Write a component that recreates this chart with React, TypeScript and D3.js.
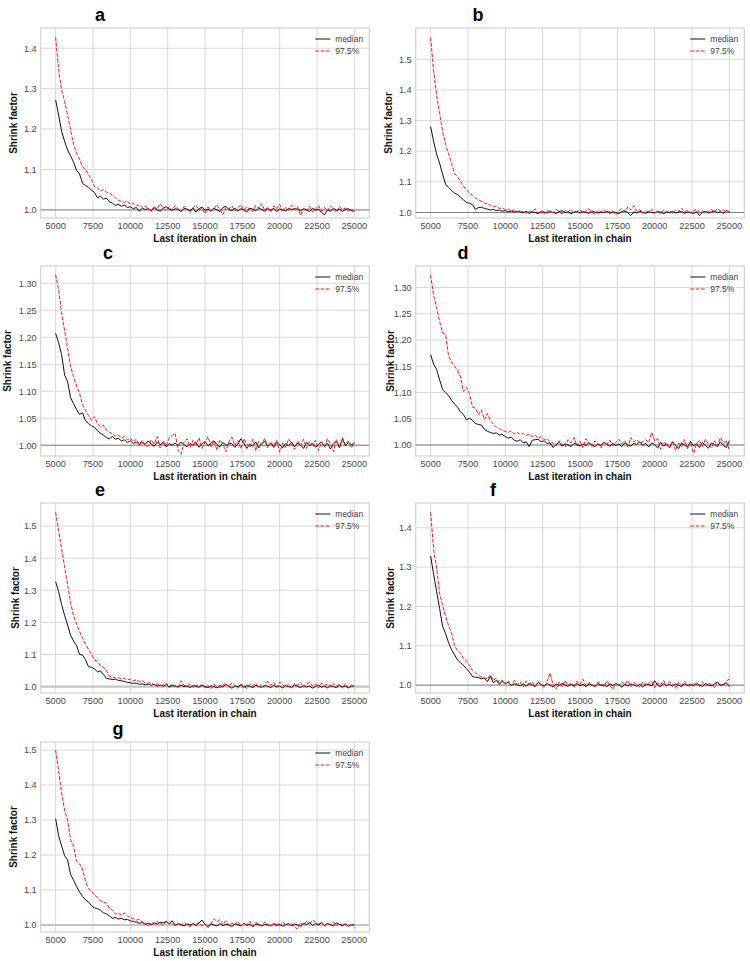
import * as d3 from 'd3';

// Gelman–Rubin shrink factor, one panel per chain set
const iterations = d3.range(5000, 25001, 200);
const xTicks = [5000, 7500, 10000, 12500, 15000, 17500, 20000, 22500, 25000];

const medianA = [
  1.272, 1.235, 1.194, 1.170, 1.148, 1.134, 1.118, 1.098, 1.089, 1.066,
  1.060, 1.056, 1.049, 1.043, 1.030, 1.034, 1.027, 1.029, 1.020, 1.017,
  1.011, 1.014, 1.009, 1.012, 1.006, 1.008, 1.003, 1.006, 0.997, 1.004,
  1.001,
  1.003, 0.998, 1.005, 1.000, 0.997, 1.004, 1.008, 1.002, 0.999, 1.003,
  1.001, 0.996, 1.004, 1.002, 0.998, 1.005, 0.994, 1.003, 1.007, 0.999,
  1.002, 0.997, 1.004, 1.000, 0.996, 1.006, 1.009, 1.001, 0.998, 1.004,
  0.997, 1.003, 1.000, 0.995, 1.004, 1.002, 0.998, 1.005, 1.001, 0.997,
  1.003, 0.999, 1.004, 0.996, 1.002, 1.000, 0.997, 1.004, 1.001, 1.003,
  1.002, 0.998, 1.003, 1.000, 0.996, 1.004, 0.999, 1.002, 0.994, 0.988,
  1.000, 0.997, 1.004, 0.999, 1.002, 0.996, 1.001, 1.003, 0.998, 0.997,
];
const upperA = [
  1.427, 1.345, 1.298, 1.268, 1.235, 1.198, 1.162, 1.140, 1.126, 1.106,
  1.100, 1.088, 1.075, 1.058, 1.055, 1.046, 1.050, 1.044, 1.042, 1.036,
  1.030, 1.024, 1.021, 1.019, 1.022, 1.014, 1.017, 1.010, 1.013, 1.006,
  1.010,
  1.004, 0.996, 1.010, 1.002, 1.016, 1.005, 0.998, 1.008, 1.000, 1.011,
  1.003, 0.995, 1.009, 1.001, 0.993, 1.006, 1.012, 0.999, 1.004, 0.991,
  1.007, 0.997, 1.003, 1.013, 1.000, 0.988, 1.006, 1.002, 1.010, 0.998,
  1.005, 1.013, 0.999, 1.008, 1.001, 0.995, 1.011, 1.004, 1.016, 0.999,
  1.007, 0.994, 1.010, 1.002, 1.014, 0.997, 1.006, 0.999, 1.012, 1.001,
  1.008, 0.986, 1.004, 0.998, 1.009, 0.995, 1.002, 1.011, 0.996, 1.006,
  0.998, 1.010, 1.003, 0.994, 1.008, 1.001, 1.005, 0.997, 1.002, 0.996,
];

const medianB = [
  1.280, 1.232, 1.190, 1.161, 1.125, 1.092, 1.082, 1.072, 1.063, 1.058,
  1.050, 1.041, 1.033, 1.030, 1.026, 1.010, 1.016, 1.017, 1.013, 1.011,
  1.008, 1.010, 1.006, 1.008, 1.004, 1.006, 1.002, 1.005, 1.001, 1.004,
  1.002,
  0.999, 1.004, 0.997, 1.002, 1.000, 0.996, 1.003, 1.001, 0.998, 1.004,
  1.000, 0.997, 1.003, 1.006, 0.999, 1.002, 0.996, 1.001, 1.004, 0.998,
  1.003, 1.000, 0.997, 1.005, 1.001, 0.998, 1.002, 0.999, 1.004, 0.997,
  1.002, 1.000, 0.996, 1.003, 1.006, 0.999, 0.990, 1.002, 0.998, 1.004,
  1.001, 0.997, 1.003, 1.000, 0.998, 1.004, 1.001, 0.996, 1.002, 0.999,
  1.003, 0.998, 1.001, 1.004, 0.997, 1.002, 1.000, 0.996, 1.003, 0.990,
  1.001, 1.004, 0.998, 1.002, 1.005, 0.999, 1.003, 0.997, 1.006, 1.001,
];
const upperB = [
  1.571, 1.462, 1.382, 1.324, 1.266, 1.222, 1.192, 1.160, 1.128, 1.116,
  1.102, 1.085, 1.074, 1.063, 1.056, 1.047, 1.042, 1.036, 1.031, 1.027,
  1.024, 1.018, 1.021, 1.013, 1.015, 1.009, 1.011, 1.004, 1.008, 1.002,
  1.006,
  1.002, 0.996, 1.007, 1.001, 1.012, 0.998, 1.005, 0.993, 1.008, 1.002,
  0.999, 1.010, 1.004, 0.995, 1.006, 1.001, 1.011, 0.997, 1.004, 1.008,
  0.999, 1.005, 1.012, 1.000, 0.994, 1.007, 1.003, 1.010, 0.998, 1.005,
  1.001, 0.992, 1.006, 1.013, 1.002, 1.018, 1.008, 1.022, 1.004, 1.010,
  0.997, 1.006, 1.002, 1.011, 0.999, 1.004, 0.995, 1.008, 1.001, 1.006,
  0.996, 1.009, 1.003, 1.014, 1.002, 1.007, 0.998, 1.005, 1.011, 1.002,
  1.006, 0.999, 1.004, 1.010, 1.001, 1.013, 1.005, 1.008, 1.002, 1.003,
];

const medianC = [
  1.207, 1.190, 1.168, 1.130, 1.118, 1.088, 1.077, 1.066, 1.057, 1.060,
  1.045, 1.040, 1.036, 1.033, 1.027, 1.022, 1.019, 1.014, 1.012, 1.016,
  1.011, 1.013, 1.008, 1.010, 1.005, 1.008, 1.003, 1.006, 1.001, 1.005,
  1.002,
  1.008, 1.002, 0.998, 1.006, 1.001, 1.005, 0.997, 1.003, 1.000, 1.004,
  0.999, 1.006, 1.001, 0.997, 1.003, 1.000, 1.005, 0.996, 1.002, 1.007,
  0.999, 1.004, 1.008, 1.001, 0.997, 1.005, 1.000, 1.003, 1.003, 0.996,
  1.002, 1.012, 1.004, 0.994, 1.002, 0.998, 1.006, 0.995, 1.003, 1.007,
  0.998, 1.004, 0.996, 1.005, 1.001, 0.995, 1.003, 0.999, 1.006, 0.997,
  1.004, 1.000, 0.994, 1.005, 0.999, 1.003, 0.996, 1.002, 1.006, 0.998,
  1.004, 0.993, 1.002, 1.008, 0.995, 1.012, 0.999, 1.005, 1.001, 1.003,
];
const upperC = [
  1.316, 1.288, 1.245, 1.212, 1.180, 1.146, 1.127, 1.110, 1.096, 1.075,
  1.064, 1.055, 1.046, 1.053, 1.040, 1.034, 1.037, 1.028, 1.024, 1.021,
  1.017, 1.019, 1.013, 1.016, 1.010, 1.013, 1.006, 1.011, 1.002, 1.009,
  0.999,
  0.998, 1.010, 1.002, 1.016, 0.995, 1.008, 0.999, 1.013, 1.018, 1.022,
  0.990, 0.983, 1.006, 1.012, 0.996, 1.009, 1.001, 1.014, 0.994, 1.005,
  1.016, 0.997, 1.008, 0.991, 1.010, 1.002, 0.988, 1.006, 1.015, 0.999,
  1.009, 0.993, 1.012, 1.003, 0.996, 1.011, 0.990, 1.007, 1.001, 1.013,
  0.995, 1.006, 0.999, 1.010, 0.987, 1.004, 0.996, 1.012, 1.002, 0.992,
  1.008, 0.999, 1.011, 0.994, 1.006, 1.001, 1.009, 0.990, 1.005, 0.997,
  1.012, 1.003, 0.988, 1.010, 0.996, 1.014, 1.001, 1.008, 0.995, 1.006,
];

const medianD = [
  1.172, 1.154, 1.144, 1.124, 1.106, 1.100, 1.094, 1.085, 1.078, 1.072,
  1.063, 1.058, 1.048, 1.051, 1.047, 1.041, 1.039, 1.038, 1.030, 1.026,
  1.024, 1.022, 1.023, 1.019, 1.020, 1.016, 1.013, 1.015, 1.009, 1.007,
  1.010,
  1.004, 1.006, 0.997, 1.009, 1.010, 1.011, 1.006, 1.008, 1.003, 1.004,
  0.995, 1.001, 1.005, 0.998, 1.002, 1.000, 0.997, 1.003, 1.001, 0.998,
  1.002, 0.999, 1.004, 1.000, 0.997, 1.002, 0.999, 1.005, 1.001, 0.998,
  1.003, 0.999, 1.002, 0.997, 1.004, 1.000, 0.998, 1.003, 1.001, 1.006,
  0.999, 1.003, 0.996, 1.004, 1.001, 0.994, 1.005, 0.998, 1.002, 0.995,
  1.006, 0.999, 0.993, 1.004, 1.000, 0.996, 1.007, 0.998, 1.003, 0.995,
  1.005, 0.999, 0.994, 1.004, 1.001, 0.997, 1.006, 0.999, 0.995, 1.008,
];
const upperD = [
  1.324, 1.285, 1.262, 1.235, 1.214, 1.210, 1.170, 1.158, 1.150, 1.142,
  1.130, 1.102, 1.110, 1.098, 1.072, 1.070, 1.058, 1.067, 1.048, 1.060,
  1.046, 1.040, 1.034, 1.031, 1.028, 1.026, 1.024, 1.027, 1.021, 1.024,
  1.020,
  1.022, 1.018, 1.021, 1.016, 1.019, 1.013, 1.016, 1.010, 1.012, 1.006,
  1.004, 0.998, 1.008, 1.002, 0.996, 1.010, 1.004, 1.014, 0.998, 1.007,
  0.995, 1.012, 1.003, 0.997, 1.008, 1.002, 0.994, 1.006, 1.001, 1.009,
  0.998, 1.005, 1.011, 1.002, 1.008, 0.996, 1.014, 1.006, 1.010, 1.003,
  1.006, 1.010, 1.004, 1.024, 1.008, 1.012, 0.992, 1.006, 1.001, 0.995,
  1.008, 0.990, 1.004, 0.997, 1.010, 0.993, 1.006, 0.984, 1.002, 1.009,
  0.996, 1.011, 1.001, 0.994, 1.008, 0.999, 1.014, 1.003, 1.009, 0.990,
];

const medianE = [
  1.327, 1.296, 1.255, 1.222, 1.192, 1.160, 1.142, 1.128, 1.100, 1.098,
  1.084, 1.062, 1.060, 1.055, 1.046, 1.049, 1.038, 1.026, 1.024, 1.022,
  1.023, 1.019, 1.018, 1.016, 1.013, 1.012, 1.010, 1.011, 1.007, 1.009,
  1.005,
  1.008, 1.004, 1.007, 1.002, 1.005, 1.001, 1.006, 0.998, 1.003, 1.001,
  0.999, 1.004, 1.000, 1.002, 0.997, 1.003, 1.001, 0.998, 1.004, 1.000,
  0.997, 1.002, 1.000, 0.996, 1.003, 0.999, 1.006, 1.001, 0.995, 1.002,
  1.000, 1.005, 0.998, 1.003, 1.001, 0.997, 1.004, 1.000, 0.998, 1.003,
  1.001, 0.997, 1.004, 0.999, 1.002, 0.996, 1.003, 1.000, 0.998, 1.004,
  1.001, 0.997, 1.003, 0.999, 1.002, 0.995, 1.001, 1.004, 0.998, 1.002,
  0.996, 1.003, 1.000, 0.997, 1.004, 0.999, 1.002, 0.996, 1.001, 1.002,
];
const upperE = [
  1.543, 1.485, 1.430, 1.373, 1.318, 1.262, 1.220, 1.195, 1.172, 1.150,
  1.132, 1.116, 1.100, 1.083, 1.078, 1.065, 1.060, 1.050, 1.032, 1.030,
  1.027, 1.028, 1.024, 1.026, 1.021, 1.023, 1.018, 1.021, 1.016, 1.019,
  1.011,
  1.010, 1.013, 1.005, 1.009, 1.002, 1.006, 1.011, 1.000, 1.007, 1.003,
  0.998, 1.018, 1.004, 1.001, 1.008, 0.997, 1.005, 1.000, 1.006, 0.996,
  1.004, 0.993, 1.007, 1.001, 0.996, 1.005, 1.010, 0.999, 1.012, 1.003,
  0.995, 1.008, 1.001, 0.994, 1.007, 1.002, 1.011, 0.998, 1.006, 1.001,
  1.016, 1.004, 1.013, 0.997, 1.014, 1.006, 0.999, 1.008, 0.995, 1.010,
  1.003, 1.012, 0.998, 1.007, 1.014, 1.001, 1.009, 0.996, 1.011, 1.004,
  1.008, 0.999, 1.010, 1.002, 1.006, 0.995, 1.009, 0.997, 1.005, 1.001,
];

const medianF = [
  1.328, 1.282, 1.238, 1.195, 1.150, 1.131, 1.108, 1.090, 1.077, 1.064,
  1.057, 1.050, 1.042, 1.033, 1.022, 1.020, 1.019, 1.016, 1.018, 1.009,
  1.022, 1.006, 1.012, 1.002, 1.010, 1.004, 1.007, 0.999, 1.004, 1.001,
  0.998,
  1.003, 0.997, 1.005, 1.000, 0.996, 1.007, 1.001, 0.998, 1.004, 1.000,
  0.995, 1.003, 0.999, 1.004, 1.000, 0.997, 1.002, 0.999, 1.004, 0.998,
  1.002, 0.996, 1.003, 1.000, 0.997, 1.004, 0.999, 1.001, 0.996, 1.003,
  0.999, 1.004, 1.000, 0.995, 1.002, 0.998, 1.003, 1.001, 0.997, 1.002,
  0.995, 1.003, 1.001, 0.998, 1.011, 1.000, 0.996, 1.004, 0.999, 1.002,
  0.997, 1.003, 1.000, 0.996, 1.004, 0.999, 1.002, 0.998, 1.005, 1.000,
  0.997, 1.004, 1.000, 0.998, 1.003, 1.008, 0.999, 1.002, 1.006, 0.996,
];
const upperF = [
  1.439, 1.345, 1.298, 1.233, 1.203, 1.175, 1.152, 1.132, 1.100, 1.088,
  1.082, 1.067, 1.062, 1.050, 1.037, 1.031, 1.025, 1.021, 1.019, 1.016,
  1.026, 1.012, 1.018, 1.006, 1.013, 1.003, 1.010, 0.998, 1.012, 1.002,
  1.008,
  0.995, 1.011, 1.001, 1.007, 0.997, 1.009, 1.002, 0.993, 1.010, 1.031,
  1.000, 0.990, 1.008, 0.996, 1.012, 0.999, 1.006, 0.993, 1.010, 1.002,
  1.015, 0.998, 1.007, 1.001, 0.994, 1.009, 1.003, 0.996, 1.011, 1.000,
  0.989, 1.006, 0.998, 1.009, 1.002, 1.012, 0.996, 1.007, 1.001, 0.995,
  1.008, 0.999, 1.004, 1.010, 0.993, 1.006, 1.001, 1.012, 0.997, 1.009,
  1.003, 0.992, 1.007, 0.999, 1.010, 1.002, 0.995, 1.006, 1.001, 0.996,
  1.009, 0.998, 1.005, 1.001, 0.994, 1.007, 1.003, 0.997, 1.010, 1.016,
];

const medianG = [
  1.304, 1.255, 1.226, 1.198, 1.186, 1.145, 1.128, 1.110, 1.094, 1.082,
  1.072, 1.066, 1.055, 1.049, 1.047, 1.042, 1.035, 1.032, 1.026, 1.019,
  1.022, 1.017, 1.019, 1.015, 1.016, 1.012, 1.010, 1.008, 1.005, 1.007,
  1.002,
  1.005, 1.001, 1.006, 1.003, 1.008, 1.006, 1.010, 1.004, 1.012, 0.999,
  1.004, 1.001, 0.997, 1.003, 1.000, 1.004, 0.998, 1.006, 1.014, 1.002,
  0.996, 1.003, 1.000, 0.997, 1.004, 0.998, 1.002, 1.000, 0.996, 1.003,
  1.001, 0.997, 1.005, 0.999, 1.002, 0.995, 1.003, 1.000, 0.997, 1.002,
  1.000, 0.998, 1.003, 0.999, 1.002, 0.996, 1.001, 1.004, 0.998, 1.003,
  1.000, 0.997, 1.005, 1.001, 1.007, 0.999, 1.004, 1.000, 1.006, 0.998,
  1.004, 1.001, 0.997, 1.006, 1.002, 0.998, 1.003, 0.996, 1.001, 1.000,
];
const upperG = [
  1.500, 1.440, 1.378, 1.328, 1.300, 1.244, 1.225, 1.182, 1.175, 1.160,
  1.126, 1.104, 1.097, 1.086, 1.078, 1.069, 1.066, 1.063, 1.048, 1.043,
  1.031, 1.034, 1.028, 1.035, 1.026, 1.021, 1.018, 1.014, 1.016, 1.009,
  1.006,
  0.996, 1.008, 1.002, 1.011, 1.005, 0.999, 1.009, 1.003, 1.007, 0.997,
  1.004, 0.999, 1.007, 1.001, 0.995, 1.005, 1.000, 1.008, 0.998, 1.004,
  0.992, 1.003, 1.018, 1.009, 1.015, 1.002, 1.012, 0.999, 1.006, 1.001,
  1.010, 0.997, 1.005, 1.000, 1.011, 0.996, 1.007, 1.002, 0.998, 1.009,
  1.003, 0.995, 1.006, 1.001, 0.997, 1.008, 1.002, 0.999, 1.005, 0.994,
  0.988, 1.006, 1.001, 1.010, 1.004, 1.014, 1.008, 1.003, 1.009, 0.997,
  1.006, 1.001, 1.009, 0.998, 1.005, 1.000, 1.003, 0.996, 1.001, 0.994,
];

const ticksTenths5 = [1.0, 1.1, 1.2, 1.3, 1.4, 1.5];
const ticksTenths4 = [1.0, 1.1, 1.2, 1.3, 1.4];
const ticksTwentieths = [1.0, 1.05, 1.1, 1.15, 1.2, 1.25, 1.3];

// layout of the 4 x 2 grid
const W = 750;
const H = 961;
const colLeft = [40.7, 415.7];
const rowTop = [28, 266, 503, 742];
const plotW = 328.6;
const plotH = 190;
const font = '"Liberation Sans", Arial, sans-serif';

const panels = [
  { letter: 'a', row: 0, col: 0, median: medianA, upper: upperA, yDomain: [0.98, 1.45], yTicks: ticksTenths4, digits: 1, titleX: 100, labelX: 13.3, softRef: false },
  { letter: 'b', row: 0, col: 1, median: medianB, upper: upperB, yDomain: [0.982, 1.602], yTicks: ticksTenths5, digits: 1, titleX: 478, labelX: 388.3, softRef: false },
  { letter: 'c', row: 1, col: 0, median: medianC, upper: upperC, yDomain: [0.98, 1.332], yTicks: ticksTwentieths, digits: 2, titleX: 108, labelX: 7, softRef: false },
  { letter: 'd', row: 1, col: 1, median: medianD, upper: upperD, yDomain: [0.979, 1.341], yTicks: ticksTwentieths, digits: 2, titleX: 463, labelX: 390, softRef: false },
  { letter: 'e', row: 2, col: 0, median: medianE, upper: upperE, yDomain: [0.98, 1.572], yTicks: ticksTenths5, digits: 1, titleX: 100, labelX: 15, softRef: true },
  { letter: 'f', row: 2, col: 1, median: medianF, upper: upperF, yDomain: [0.98, 1.463], yTicks: ticksTenths4, digits: 1, titleX: 493, labelX: 390, softRef: false },
  { letter: 'g', row: 3, col: 0, median: medianG, upper: upperG, yDomain: [0.98, 1.523], yTicks: ticksTenths5, digits: 1, titleX: 118, labelX: 13.3, softRef: true },
];

type PanelCfg = (typeof panels)[number];

function Panel({ cfg }: { cfg: PanelCfg }) {
  const left = colLeft[cfg.col];
  const top = rowTop[cfg.row];
  const right = left + plotW;
  const bottom = top + plotH;

  const x = d3.scaleLinear().domain([4000, 26000]).range([left, right]);
  const y = d3.scaleLinear().domain(cfg.yDomain).range([bottom, top]);

  const line = d3
    .line<number>()
    .x((_, i) => x(iterations[i]))
    .y((d) => y(d));

  const fmt = d3.format(`.${cfg.digits}f`);

  return (
    <g>
      {/* grid */}
      {xTicks.map((t) => (
        <line key={`gx${t}`} x1={x(t)} x2={x(t)} y1={top} y2={bottom} stroke="#d9d9d9" strokeWidth={1} />
      ))}
      {cfg.yTicks.map((t) => (
        <line key={`gy${t}`} x1={left} x2={right} y1={y(t)} y2={y(t)} stroke="#d9d9d9" strokeWidth={1} />
      ))}
      <rect x={left} y={top} width={plotW} height={plotH} fill="none" stroke="#d3d3d3" strokeWidth={1.2} />

      {/* reference at 1 */}
      <line
        x1={left}
        x2={right}
        y1={y(1)}
        y2={y(1)}
        stroke={cfg.softRef ? '#c4c4c4' : '#808080'}
        strokeWidth={cfg.softRef ? 2.2 : 1}
      />

      <path d={line(cfg.median) ?? ''} fill="none" stroke="#111" strokeWidth={1} />
      <path d={line(cfg.upper) ?? ''} fill="none" stroke="#ff1a1a" strokeWidth={1} strokeDasharray="3.7 1.6" />

      {/* tick labels */}
      {xTicks.map((t) => (
        <text key={`tx${t}`} x={x(t)} y={bottom + 10.5} textAnchor="middle" fontSize={9.2} fill="#4a4a4a" fontFamily={font}>
          {t}
        </text>
      ))}
      {cfg.yTicks.map((t) => (
        <text key={`ty${t}`} x={left - 4} y={y(t) + 3.3} textAnchor="end" fontSize={9.2} fill="#4a4a4a" fontFamily={font}>
          {fmt(t)}
        </text>
      ))}

      {/* axis labels and panel letter */}
      <text x={(left + right) / 2} y={bottom + 23.5} textAnchor="middle" fontSize={10} fontWeight="bold" fill="#111" fontFamily={font}>
        Last iteration in chain
      </text>
      <text
        transform={`translate(${cfg.labelX + 3.5},${(top + bottom) / 2}) rotate(-90)`}
        textAnchor="middle"
        fontSize={10}
        fontWeight="bold"
        fill="#111"
        fontFamily={font}
      >
        Shrink factor
      </text>
      <text x={cfg.titleX} y={top - 7} textAnchor="middle" fontSize={18} fontWeight="bold" fill="#000" fontFamily={font}>
        {cfg.letter}
      </text>

      {/* legend */}
      <line x1={right - 54} x2={right - 39} y1={top + 11} y2={top + 11} stroke="#111" strokeWidth={1} />
      <text x={right - 34} y={top + 14} fontSize={8.5} fill="#444" fontFamily={font}>
        median
      </text>
      <line x1={right - 54} x2={right - 39} y1={top + 23} y2={top + 23} stroke="#ff1a1a" strokeWidth={1} strokeDasharray="3.7 1.6" />
      <text x={right - 34} y={top + 26} fontSize={8.5} fill="#444" fontFamily={font}>
        97.5%
      </text>
    </g>
  );
}

export default function App() {
  return (
    <svg
      width={W}
      height={H}
      viewBox={`0 0 ${W} ${H}`}
      style={{ position: 'absolute', left: 0, top: 0, display: 'block', background: '#fff' }}
    >
      <rect width={W} height={H} fill="#fff" />
      {panels.map((p) => (
        <Panel key={p.letter} cfg={p} />
      ))}
    </svg>
  );
}
